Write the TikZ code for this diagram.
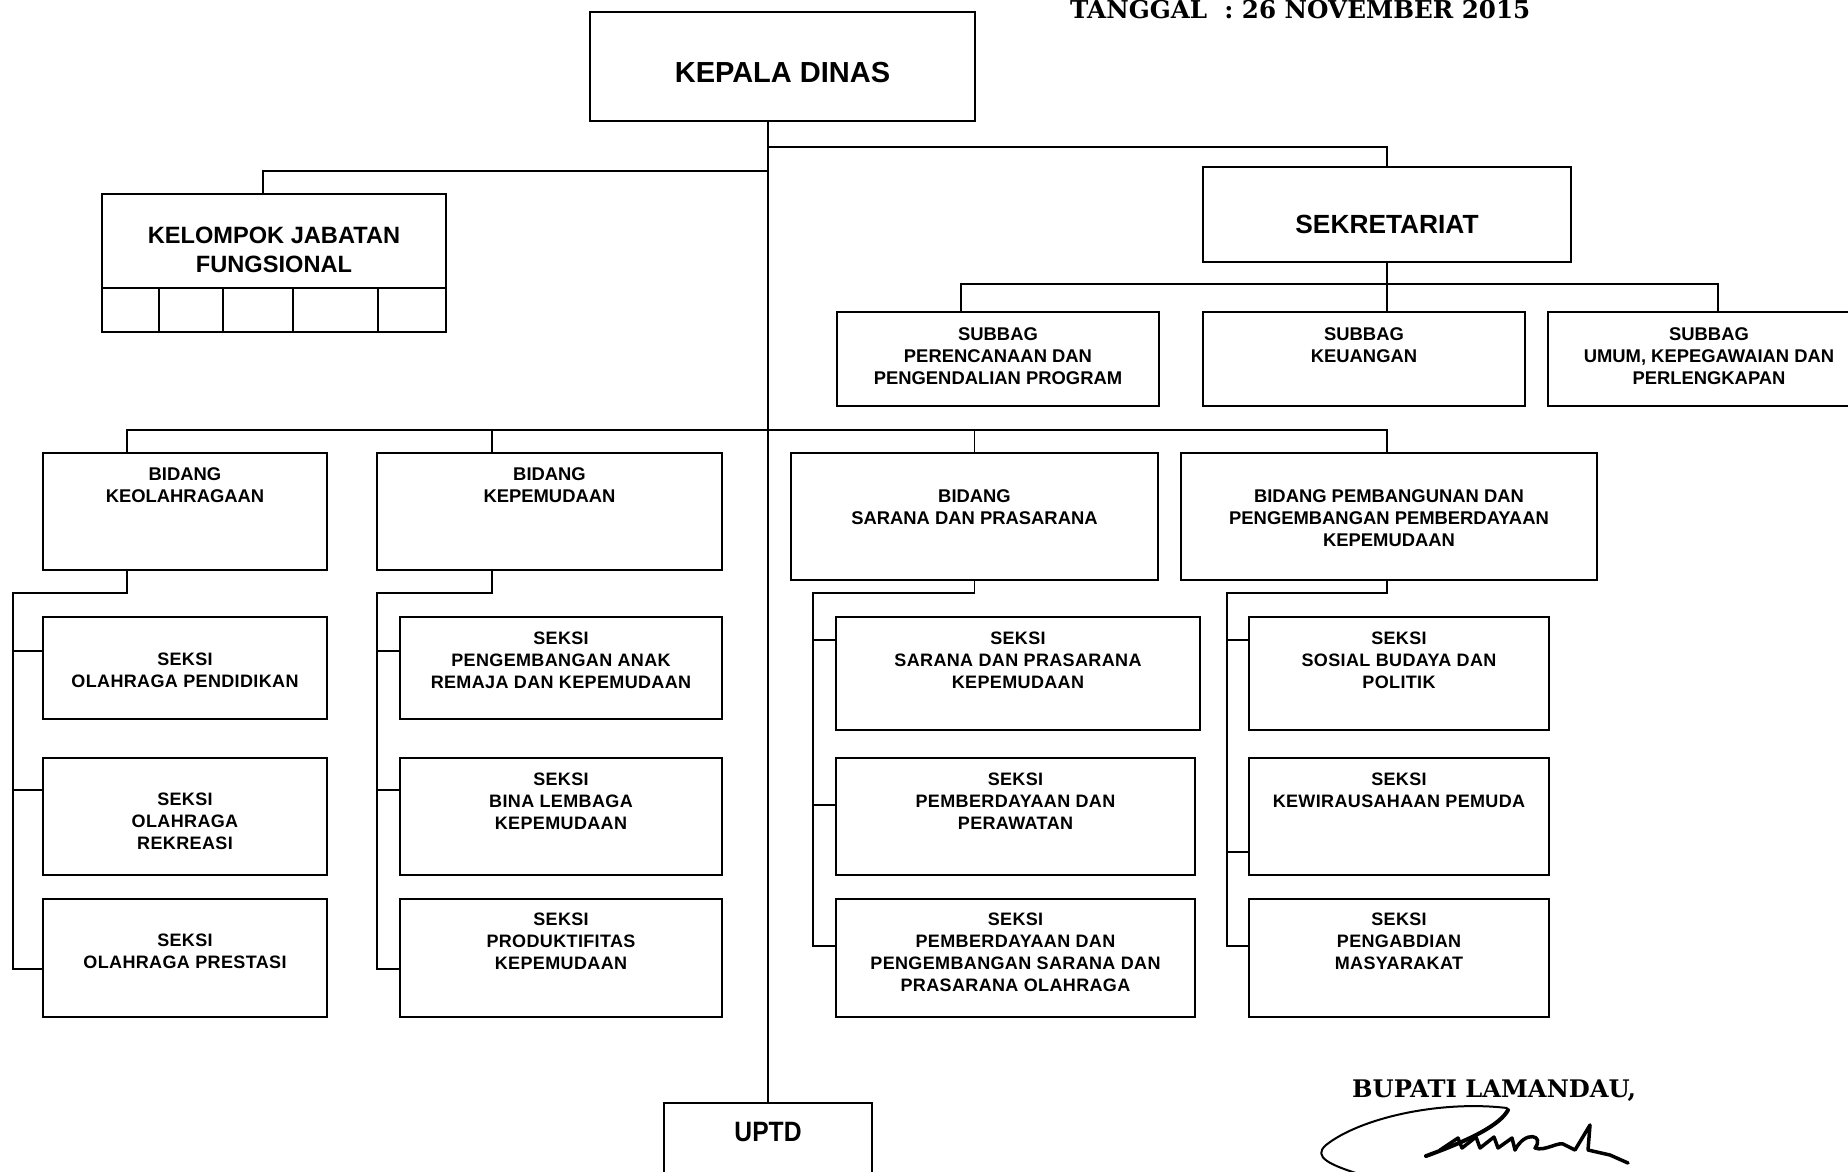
\documentclass[tikz,border=0pt]{standalone}
\usepackage{fontspec}
\setmainfont{Liberation Sans}
\newfontfamily\titleserif{DejaVu Serif}
\usetikzlibrary{calc}

\tikzset{
  boxframe/.style={draw=black, line width=2.2pt, inner sep=0pt, outer sep=0pt},
  link/.style={draw=black, line width=1.8pt},
  lbl/.style={align=center, inner sep=0pt, font=\fontsize{18.4}{22}\selectfont\bfseries},
  slbl/.style={align=center, inner sep=0pt, font=\fontsize{18}{22}\selectfont\bfseries\addfontfeature{LetterSpace=2}},
  bigtxt/.style={align=center, inner sep=0pt, font=\fontsize{#1}{28}\selectfont\bfseries},
  serifhead/.style={anchor=base west, inner sep=0pt, font=\titleserif\bfseries\fontsize{24.6}{30}\selectfont},
  sig/.style={draw=black, line cap=round, line join=round},
}

% box from (x1,y1) to (x2,y2), label hung from the top edge
% #1 name, #2 x1, #3 y1, #4 x2, #5 y2, #6 label style, #7 drop of the label, #8 text
\newcommand\orgbox[8]{%
  \node[boxframe, anchor=north west, minimum width={(#4-#2)*1pt}, minimum height={(#5-#3)*1pt}] (#1) at (#2,#3) {};
  \node[#6, anchor=north] (#1-txt) at ([yshift=-#7pt]#1.north) {#8};
}

\begin{document}
\begin{tikzpicture}[x=1pt,y=-1pt]
\useasboundingbox (0,0) rectangle (1848,1171);

% heading and signature block
\node[serifhead] (tanggal) at (1070,18) {TANGGAL\ \ : 26 NOVEMBER 2015};
\node[serifhead, font=\titleserif\bfseries\fontsize{24.2}{30}\selectfont] (bupati) at (1352,1097) {BUPATI LAMANDAU,};

% head of office
\node[boxframe, anchor=north west, minimum width=385pt, minimum height=109pt] (kepala) at (590,12) {};
\node[bigtxt=29] (kepala-txt) at (782.5,73) {KEPALA DINAS};

% functional group
\node[boxframe, anchor=north west, minimum width=344pt, minimum height=138pt] (kjf) at (102,194) {};
\node[bigtxt=23.6, anchor=north] (kjf-txt) at (274,227) {KELOMPOK JABATAN\\[1pt]FUNGSIONAL};
\draw[boxframe] (kjf.west |- 0,288) -- (kjf.east |- 0,288);
\foreach \cx in {159,223,293,378} \draw[boxframe] (\cx,288) -- (\cx,332);

% secretariat
\node[boxframe, anchor=north west, minimum width=368pt, minimum height=95pt] (sekre) at (1203,167) {};
\node[bigtxt=26.3] (sekre-txt) at (1387,224) {SEKRETARIAT};

% technical unit
\node[boxframe, anchor=north west, minimum width=208pt, minimum height=90pt] (uptd) at (664,1103) {};
\node[bigtxt=28, anchor=north] (uptd-txt) at (768,1122) {\scalebox{0.88}[1]{UPTD}};

% sub-sections of the secretariat
\orgbox{sub1}{837}{312}{1159}{406}{lbl}{15}{SUBBAG\\PERENCANAAN DAN\\PENGENDALIAN PROGRAM}
\orgbox{sub2}{1203}{312}{1525}{406}{lbl}{15}{SUBBAG\\KEUANGAN}
\orgbox{sub3}{1548}{312}{1870}{406}{lbl}{15}{SUBBAG\\UMUM, KEPEGAWAIAN DAN\\PERLENGKAPAN}

% divisions
\orgbox{bid1}{43}{453}{327}{570}{lbl}{14}{BIDANG\\KEOLAHRAGAAN}
\orgbox{bid2}{377}{453}{722}{570}{lbl}{14}{BIDANG\\KEPEMUDAAN}
\orgbox{bid3}{791}{453}{1158}{580}{lbl}{36}{BIDANG\\SARANA DAN PRASARANA}
\orgbox{bid4}{1181}{453}{1597}{580}{lbl}{36}{BIDANG PEMBANGUNAN DAN\\PENGEMBANGAN PEMBERDAYAAN\\KEPEMUDAAN}

% sections
\orgbox{s11}{43}{617}{327}{719}{slbl}{36}{SEKSI\\OLAHRAGA PENDIDIKAN}
\orgbox{s12}{43}{758}{327}{875}{slbl}{35}{SEKSI\\OLAHRAGA\\REKREASI}
\orgbox{s13}{43}{899}{327}{1017}{slbl}{35}{SEKSI\\OLAHRAGA PRESTASI}

\orgbox{s21}{400}{617}{722}{719}{slbl}{15}{SEKSI\\PENGEMBANGAN ANAK\\REMAJA DAN KEPEMUDAAN}
\orgbox{s22}{400}{758}{722}{875}{slbl}{15}{SEKSI\\BINA LEMBAGA\\KEPEMUDAAN}
\orgbox{s23}{400}{899}{722}{1017}{slbl}{14}{SEKSI\\PRODUKTIFITAS\\KEPEMUDAAN}

\orgbox{s31}{836}{617}{1200}{730}{slbl}{15}{SEKSI\\SARANA DAN PRASARANA\\KEPEMUDAAN}
\orgbox{s32}{836}{758}{1195}{875}{slbl}{15}{SEKSI\\PEMBERDAYAAN DAN\\PERAWATAN}
\orgbox{s33}{836}{899}{1195}{1017}{slbl}{14}{SEKSI\\PEMBERDAYAAN DAN\\PENGEMBANGAN SARANA DAN\\PRASARANA OLAHRAGA}

\orgbox{s41}{1249}{617}{1549}{730}{slbl}{15}{SEKSI\\SOSIAL BUDAYA DAN\\POLITIK}
\orgbox{s42}{1249}{758}{1549}{875}{slbl}{15}{SEKSI\\KEWIRAUSAHAAN PEMUDA}
\orgbox{s43}{1249}{899}{1549}{1017}{slbl}{14}{SEKSI\\PENGABDIAN\\MASYARAKAT}

% main trunk and upper branches
\draw[link] (uptd.north |- kepala.south) -- (uptd.north);
\coordinate (sekbus) at (768,147);
\coordinate (kjfbus) at (768,171);
\draw[link] (sekbus) -| (sekre.north);
\draw[link] (kjfbus) -| ([xshift=-11pt]kjf.north);

% secretariat bus
\coordinate (subL) at (961,284);
\coordinate (subR) at (1718,284);
\draw[link] (sekre.south) -- (sekre.south |- sub2.north);
\draw[link] (sub1.north -| subL) -- (subL) -- (subR) -- (sub3.north -| subR);

% division bus
\coordinate (bidL) at (127,430);
\coordinate (bidR) at (1387,430);
\coordinate (bid2top) at (492,430);
\draw[link] (bid1.north -| bidL) -- (bidL) -- (bidR) -- (bid4.north -| bidR);
\draw[link] (bid2top) -- (bid2.north -| bid2top);
\draw[link] (bid3.north |- bidL) -- (bid3.north);

% section spines
\draw[link] (bid1.south -| bidL) -- (127,593) -| (13,969) -- (s13.west |- 0,969);
\draw[link] (13,651) -- (s11.west |- 0,651);
\draw[link] (13,790) -- (s12.west |- 0,790);

\draw[link] (bid2.south -| bid2top) -- (492,593) -| (377,969) -- (s23.west |- 0,969);
\draw[link] (377,651) -- (s21.west |- 0,651);
\draw[link] (377,790) -- (s22.west |- 0,790);

\draw[link] (bid3.south) -- (bid3.south |- 0,593) -| (813,946) -- (s33.west |- 0,946);
\draw[link] (813,640) -- (s31.west |- 0,640);
\draw[link] (813,805) -- (s32.west |- 0,805);

\draw[link] (bid4.south -| bidR) -- (bidR |- 0,593) -| (1227,946) -- (s43.west |- 0,946);
\draw[link] (1227,640) -- (s41.west |- 0,640);
\draw[link] (1227,852) -- (s42.west |- 0,852);

% signature
\draw[sig, line width=2pt] (1507,1108) .. controls (1440,1100) and (1360,1118) .. (1326,1145)
  .. controls (1312,1157) and (1330,1165) .. (1362,1175);
\draw[sig, line width=4pt] (1508,1110) .. controls (1500,1125) and (1470,1140) .. (1426,1156);
\draw[sig, line width=3.5pt] (1440,1150) -- (1458,1138) -- (1462,1148) -- (1476,1137) -- (1480,1148)
  -- (1494,1137) -- (1498,1148) -- (1512,1138) -- (1515,1150)
  .. controls (1525,1130) and (1545,1135) .. (1535,1148)
  .. controls (1545,1152) and (1560,1140) .. (1565,1145)
  -- (1575,1150) -- (1590,1125) -- (1588,1150) -- (1610,1155) -- (1628,1163);
\end{tikzpicture}
\end{document}
